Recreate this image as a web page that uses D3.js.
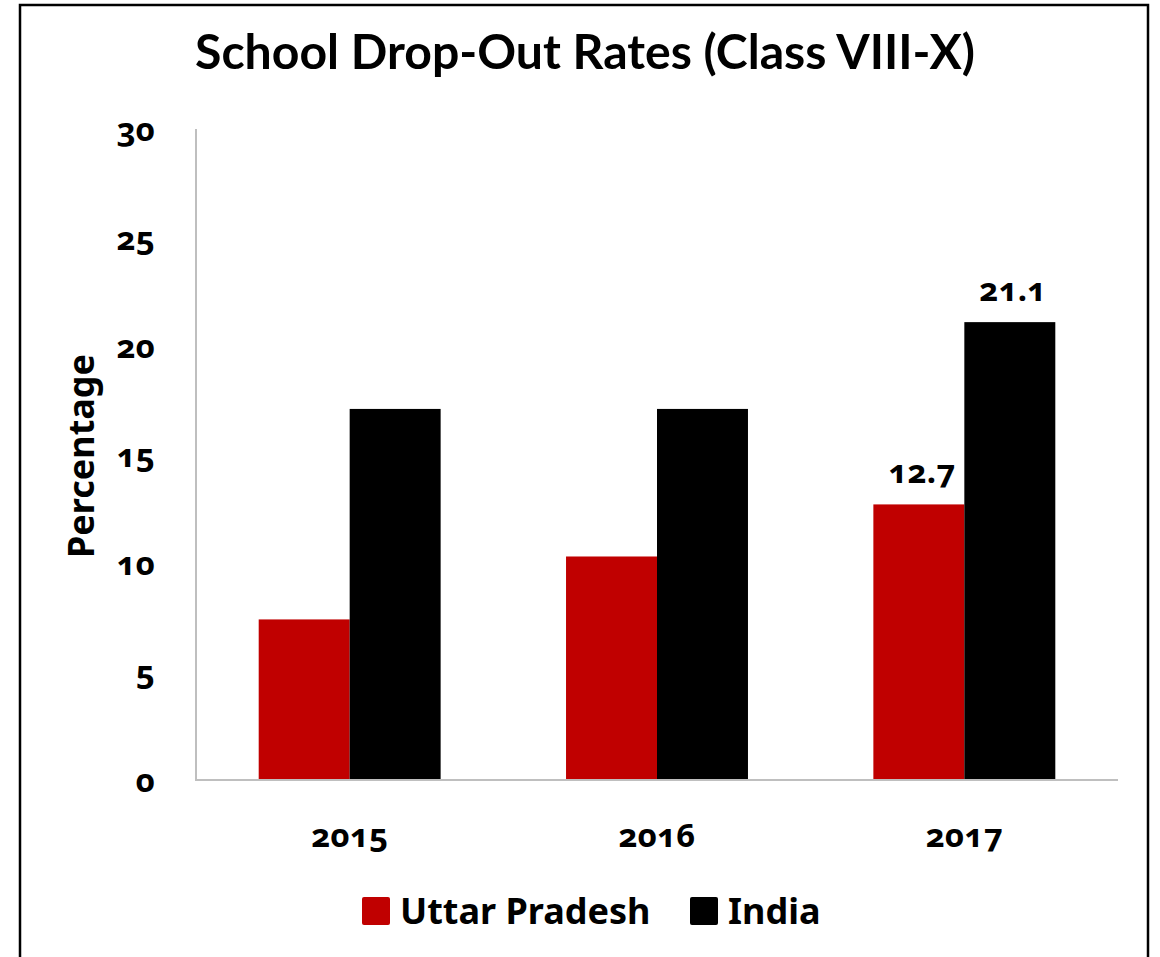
<!DOCTYPE html>
<html>
<head>
<meta charset="utf-8">
<script src="https://cdn.jsdelivr.net/npm/d3@7"></script>
<style>
  html, body { margin: 0; padding: 0; background: #fff; }
  svg text { font-family: "Noto Sans", "Open Sans", sans-serif; font-weight: 700; fill: #000;
             font-variant-numeric: oldstyle-nums; font-feature-settings: "onum" 1; }
</style>
</head>
<body>
<svg id="chart" width="1160" height="957"></svg>
<script>
// Drop-out rates, Class VIII-X (percent)
const years = ["2015", "2016", "2017"];
const seriesNames = ["Uttar Pradesh", "India"];
const upRates = [7.4, 10.3, 12.7];
const indiaRates = [17.1, 17.1, 21.1];
const yTicks = [0, 5, 10, 15, 20, 25, 30];
const labelledYears = ["2017"];
const colors = ["#c00000", "#000000"];

const svg = d3.select("#chart");

// outer frame
svg.append("rect")
  .attr("x", 20).attr("y", 5)
  .attr("width", 1128).attr("height", 980)
  .attr("fill", "#fff").attr("stroke", "#000").attr("stroke-width", 2.5);

const plot = { left: 196, right: 1118, top: 129, bottom: 780 };

const x0 = d3.scaleBand().domain(years).range([plot.left, plot.right]).paddingInner(0).paddingOuter(0);
const groupFrac = 0.592;
const x1 = d3.scaleBand().domain(seriesNames)
  .range([0, x0.bandwidth() * groupFrac]);
const y = d3.scaleLinear().domain([0, 30]).range([plot.bottom, plot.top]);

const rows = years.map((yr, i) => ({ year: yr, values: [upRates[i], indiaRates[i]] }));

// title
const title = svg.append("text")
  .attr("x", 585).attr("y", 69)
  .attr("text-anchor", "middle")
  .style("font-family", "Lato, 'Noto Sans', sans-serif")
  .style("font-size", "44px")
  .text("School Drop-Out Rates (Class VIII-X)");
{
  const w = title.node().getComputedTextLength();
  title.style("font-size", (44 * 780 / w).toFixed(2) + "px");
}

// bars
const groups = svg.append("g").selectAll("g")
  .data(rows).join("g")
  .attr("transform", d => `translate(${x0(d.year) + x0.bandwidth() * (1 - groupFrac) / 2},0)`);

groups.selectAll("rect")
  .data(d => d.values.map((v, j) => ({ year: d.year, series: seriesNames[j], value: v, j })))
  .join("rect")
  .attr("x", d => x1(d.series))
  .attr("y", d => y(d.value))
  .attr("width", x1.bandwidth())
  .attr("height", d => y(0) - y(d.value))
  .attr("fill", d => colors[d.j]);

// value labels
groups.filter(d => labelledYears.includes(d.year))
  .selectAll("text.val")
  .data(d => d.values.map((v, j) => ({ series: seriesNames[j], value: v })))
  .join("text")
  .attr("class", "val")
  .attr("x", d => x1(d.series) + x1.bandwidth() / 2 + 3)
  .attr("y", d => y(d.value) - 21)
  .attr("text-anchor", "middle")
  .style("font-size", "33px")
  .text(d => d3.format(".1f")(d.value));

// axes lines
svg.append("line")
  .attr("x1", plot.left).attr("x2", plot.left)
  .attr("y1", plot.top).attr("y2", plot.bottom)
  .attr("stroke", "#bfbfbf").attr("stroke-width", 2);
svg.append("line")
  .attr("x1", plot.left - 1).attr("x2", plot.right)
  .attr("y1", plot.bottom).attr("y2", plot.bottom)
  .attr("stroke", "#bfbfbf").attr("stroke-width", 2);

// y tick labels
const yAxis = d3.axisLeft(y).tickValues(yTicks).tickSize(0).tickPadding(41);
const gy = svg.append("g").attr("transform", `translate(${plot.left},0)`).call(yAxis);
gy.select(".domain").remove();
gy.selectAll("text")
  .attr("dy", "0.36em")
  .style("font-size", "33px")
  .style("font-family", null);

// x tick labels
const xAxis = d3.axisBottom(x0).tickSize(0).tickPadding(0);
const gx = svg.append("g").attr("transform", `translate(0,${plot.bottom})`).call(xAxis);
gx.select(".domain").remove();
gx.selectAll("text")
  .attr("y", 67).attr("dy", 0)
  .style("font-size", "33px")
  .style("font-family", null);

// y axis title
svg.append("text")
  .attr("transform", "translate(94,456) rotate(-90)")
  .attr("text-anchor", "middle")
  .style("font-size", "36px")
  .text("Percentage");

// legend
const legendItems = [
  { name: seriesNames[0], color: colors[0], x: 362 },
  { name: seriesNames[1], color: colors[1], x: 690 }
];
const lg = svg.append("g").selectAll("g").data(legendItems).join("g")
  .attr("transform", d => `translate(${d.x},897)`);
lg.append("rect")
  .attr("width", 28).attr("height", 28).attr("rx", 2)
  .attr("fill", d => d.color);
lg.append("text")
  .attr("x", 38).attr("y", 27)
  .style("font-size", "36px")
  .text(d => d.name);
</script>
</body>
</html>
